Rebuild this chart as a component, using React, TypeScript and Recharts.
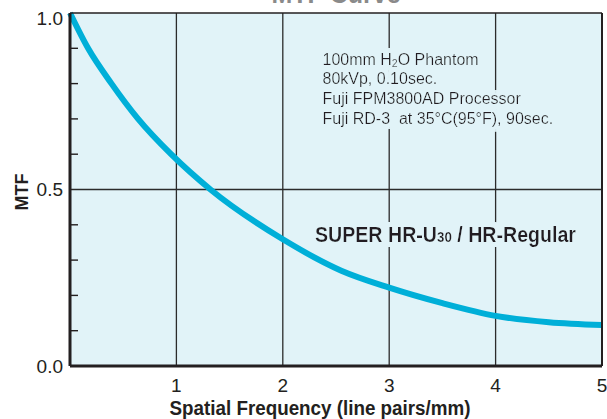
import React from 'react';
import { LineChart, Line, XAxis, YAxis, ReferenceLine, CartesianGrid, Customized } from 'recharts';

const freq = [0, 0.17, 0.39, 0.64, 0.95, 1.32, 2, 2.55, 3, 3.5, 4, 4.5, 5];
const mtf = [1.0, 0.9, 0.8, 0.7, 0.6, 0.5, 0.359, 0.27, 0.222, 0.178, 0.142, 0.124, 0.116];
const xTicks = [1, 2, 3, 4, 5];
const yTicks = [0, 0.1, 0.2, 0.3, 0.4, 0.5, 0.6, 0.7, 0.8, 0.9, 1.0];
const yLabelTicks = [0, 0.5, 1.0];
const gridX = [1, 2, 3, 4];
const gridY = [0.5];
const notes = [
  '100mm H2O Phantom',
  '80kVp, 0.10sec.',
  'Fuji FPM3800AD Processor',
  'Fuji RD-3\u00a0\u00a0at 35°C(95°F), 90sec.',
];

const data = freq.map((f, i) => ({ f, m: mtf[i] }));

const BG = '#e1f3f8';
const INK = '#231f20';
const FONT = '"Liberation Sans", Arial, Helvetica, sans-serif';

const YTick = (props: any) => {
  const { x, y, payload } = props;
  const v = payload.value;
  const isLabel = yLabelTicks.some((t) => Math.abs(t - v) < 1e-6);
  if (isLabel) {
    const extra = Math.abs(v - 1) < 1e-6 ? 5 : 0;
    return (
      <text x={x} y={y + 6.8 + extra} textAnchor="end" fontSize={19} fill={INK} fontFamily={FONT}>
        {v.toFixed(1)}
      </text>
    );
  }
  return <line x1={x + 7} x2={x + 15} y1={y} y2={y} stroke={INK} strokeWidth={1.4} />;
};

const Texts = () => (
  <g fontFamily={FONT}>
    <defs>
      <filter id="txtHalo" x="-10%" y="-40%" width="120%" height="180%">
        <feMorphology in="SourceAlpha" operator="dilate" radius="5" result="dil" />
        <feFlood floodColor={BG} floodOpacity="1" result="flood" />
        <feComposite in="flood" in2="dil" operator="in" result="halo" />
        <feMerge>
          <feMergeNode in="halo" />
          <feMergeNode in="SourceGraphic" />
        </feMerge>
      </filter>
    </defs>
    <text x={336} y={3} textAnchor="middle" fontSize={25} fontWeight="bold" fill="#8a8a8a">
      MTF Curve
    </text>
    <text
      x={0}
      y={0}
      transform="translate(22,192) rotate(-90)"
      textAnchor="middle"
      dominantBaseline="central"
      fontSize={18}
      fontWeight="bold"
      fill={INK}
    >
      MTF
    </text>
    <text x={320} y={415} textAnchor="middle" fontSize={20} fontWeight="bold" fill={INK} textLength={301} lengthAdjust="spacingAndGlyphs">
      Spatial Frequency (line pairs/mm)
    </text>
    <g fontSize={16} fill={INK} filter="url(#txtHalo)">
      <text x={322.5} y={64.5}>
        100mm H<tspan fontSize={10.5} dy={2}>2</tspan>
        <tspan dy={-2}>O Phantom</tspan>
      </text>
      <text x={322.5} y={84}>{notes[1]}</text>
      <text x={322.5} y={104}>{notes[2]}</text>
      <text x={322.5} y={123.5}>{notes[3]}</text>
    </g>
    <g filter="url(#txtHalo)">
      <text x={315} y={242} fontSize={22} fontWeight="bold" fill={INK} textLength={261} lengthAdjust="spacingAndGlyphs">
        SUPER HR-U<tspan fontSize={15}>30</tspan> / HR-Regular
      </text>
    </g>
  </g>
);

export default function App() {
  return (
    <div style={{ position: 'absolute', left: 0, top: 0, width: 607, height: 419, background: '#fff' }}>
      <LineChart width={607} height={419} data={data} margin={{ top: 13, right: 5, left: 0, bottom: 0 }}>
        <CartesianGrid
          fill={BG}
          fillOpacity={1}
          stroke="#2b2b2b"
          strokeWidth={1.3}
          verticalValues={gridX}
          horizontalValues={gridY}
        />
        <XAxis
          type="number"
          dataKey="f"
          domain={[0, 5]}
          ticks={xTicks}
          interval={0}
          height={53}
          axisLine={false}
          tickLine={false}
          tickSize={0}
          tickMargin={13}
          tick={{ fontSize: 19, fill: INK, fontFamily: FONT }}
        />
        <YAxis
          type="number"
          domain={[0, 1]}
          ticks={yTicks}
          interval={0}
          width={70}
          axisLine={false}
          tickLine={false}
          tickSize={0}
          tickMargin={7}
          tick={<YTick />}
        />
        <Customized component={Texts} />
        <Line
          type="monotone"
          dataKey="m"
          stroke="#00afd8"
          strokeWidth={6}
          dot={false}
          activeDot={false}
          isAnimationActive={false}
        />
        <ReferenceLine y={1} stroke={INK} strokeWidth={1.6} />
        <ReferenceLine x={5} stroke={INK} strokeWidth={2} />
        <ReferenceLine x={0} stroke={INK} strokeWidth={3} />
        <ReferenceLine y={0} stroke={INK} strokeWidth={3} />
      </LineChart>
    </div>
  );
}
